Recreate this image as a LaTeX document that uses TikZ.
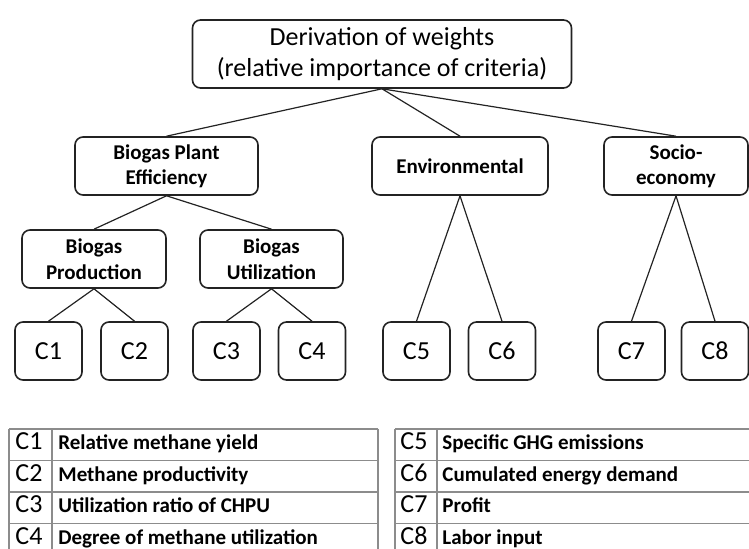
\documentclass[tikz,border=0pt]{standalone}
\usepackage{fontspec}
\setmainfont{Carlito}
\usetikzlibrary{positioning}
\definecolor{boxline}{RGB}{35,35,35}
\definecolor{tableline}{RGB}{140,140,140}

\begin{document}
\begin{tikzpicture}[x=0.5pt, y=-0.5pt,
    critbox/.style={draw=boxline, line width=0.8pt, rounded corners=4pt, align=center, inner sep=0pt, minimum height=29pt},
    groupfont/.style={font=\fontsize{10.5}{12.5}\selectfont\bfseries},
    leaf/.style={critbox, minimum width=33.5pt, font=\fontsize{13}{15}\selectfont},
    link/.style={draw=boxline, line width=0.6pt},
    tablelabel/.style={anchor=base west, inner sep=0pt, font=\fontsize{13}{14}\selectfont},
    tabletext/.style={anchor=base west, inner sep=0pt, font=\fontsize{10.5}{12}\selectfont\bfseries},
    tableline/.style={draw=tableline, line width=0.7pt}]
    \useasboundingbox (0,0) rectangle (749,549);

    % Goal
    \node[critbox, minimum width=189.5pt, minimum height=34pt, font=\fontsize{13}{15.5}\selectfont] (deriv) at (382,54)
        {Derivation of weights\\(relative importance of criteria)};

    % Main criteria
    \node[critbox, groupfont, minimum width=91.5pt] (bpe) at (166.5,166) {Biogas Plant\\Efficiency};
    \node[critbox, groupfont, minimum width=88pt] (env) at (460,166) {Environmental};
    \node[critbox, groupfont, minimum width=72pt] (socio) at (676,166) {Socio-\\economy};

    % Sub criteria
    \node[critbox, minimum width=72pt, font=\fontsize{10.5}{13}\selectfont\bfseries] (bprod) at (94,259) {Biogas\\Production};
    \node[critbox, minimum width=71.5pt, font=\fontsize{10.5}{13}\selectfont\bfseries] (butil) at (271.5,259) {Biogas\\Utilization};

    % Criteria C1 to C8
    \foreach \name/\x [count=\i] in {c1/48.5, c2/134.5, c3/226.5, c4/312, c5/416.5, c6/502, c7/631.5, c8/715}
        \node[leaf] (\name) at (\x,351) {C\i};

    % Links
    \draw[link] (deriv.south) -- (bpe.north);
    \draw[link] (deriv.south) -- (env.north);
    \draw[link] (deriv.south) -- (socio.north);
    \draw[link] (bpe.south) -- (bprod.north);
    \draw[link] (bpe.south) -- (butil.north);
    \draw[link] (bprod.south) -- (c1.north);
    \draw[link] (bprod.south) -- (c2.north);
    \draw[link] (butil.south) -- (c3.north);
    \draw[link] (butil.south) -- (c4.north);
    \draw[link] (env.south) -- (c5.north);
    \draw[link] (env.south) -- (c6.north);
    \draw[link] (socio.south) -- (c7.north);
    \draw[link] (socio.south) -- (c8.north);

    % Legend tables
    \begin{scope}
        \clip (0,0) rectangle (749,549);
        \foreach \y in {429,460.5,492,523.5,555} {
            \draw[tableline] (9,\y) -- (378,\y);
            \draw[tableline] (395,\y) -- (760,\y);
        }
        \foreach \x in {9,52,378,395,437}
            \draw[tableline] (\x,429) -- (\x,555);
    \end{scope}

    \foreach \txt [count=\i] in {Relative methane yield, Methane productivity, Utilization ratio of CHPU, Degree of methane utilization} {
        \node[tablelabel] (lab\i) at (15, 418.5+31.5*\i) {C\i};
        \node[tabletext] (desc\i) at (58, 418.5+31.5*\i) {\txt};
    }
    \foreach \txt [count=\i from 5] in {Specific GHG emissions, Cumulated energy demand, Profit, Labor input} {
        \node[tablelabel] (lab\i) at (400, 418.5+31.5*\i-126) {C\i};
        \node[tabletext] (desc\i) at (442, 418.5+31.5*\i-126) {\txt};
    }

\end{tikzpicture}
\end{document}
